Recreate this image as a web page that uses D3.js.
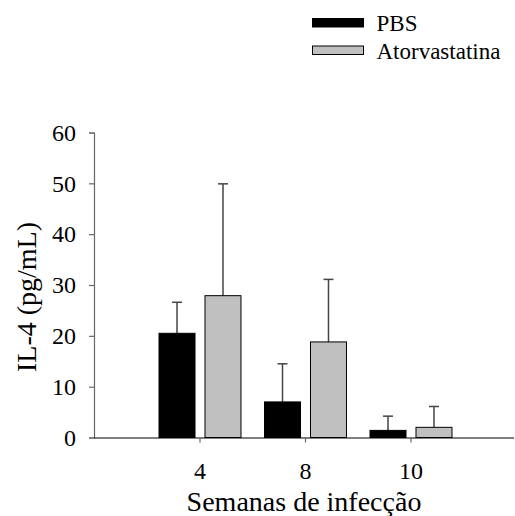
<!DOCTYPE html>
<html>
<head>
<meta charset="utf-8">
<script src="https://cdn.jsdelivr.net/npm/d3@7"></script>
<style>
  html, body { margin: 0; padding: 0; background: #fff; }
  svg { display: block; }
  text { font-family: "Liberation Serif", "Times New Roman", serif; fill: #000; }
</style>
</head>
<body>
<svg id="chart" width="515" height="516"></svg>
<script>
const categories = ["4", "8", "10"];
const seriesNames = ["PBS", "Atorvastatina"];
const pbsValues = [20.5, 7.0, 1.4];
const pbsErrors = [6.1, 7.5, 2.8];
const atorvValues = [27.9, 18.8, 2.0];
const atorvErrors = [22.0, 12.3, 4.1];
const yTicks = [0, 10, 20, 30, 40, 50, 60];
const colors = ["#000000", "#c0c0c0"];
const FONT = '"Liberation Serif", "Times New Roman", serif';

const data = categories.map((c, i) => ({
  cat: c,
  values: [
    { s: seriesNames[0], v: pbsValues[i], e: pbsErrors[i] },
    { s: seriesNames[1], v: atorvValues[i], e: atorvErrors[i] }
  ]
}));

const svg = d3.select("#chart");
const x0 = d3.scaleBand().domain(categories).range([147.25, 463.75]).paddingInner(0.223).paddingOuter(0.1115);
const x1 = d3.scaleBand().domain(seriesNames).range([0, x0.bandwidth()]).paddingInner(0.217);
const y = d3.scaleLinear().domain([0, 60]).range([437.5, 132.5]);
const color = d3.scaleOrdinal().domain(seriesNames).range(colors);

// y axis
const yAxis = svg.append("g").attr("transform", "translate(94,0)")
  .call(d3.axisLeft(y).tickValues(yTicks).tickSize(5).tickPadding(13).tickFormat(d3.format("d")));
yAxis.attr("font-family", null).attr("font-size", null);
yAxis.select(".domain").attr("stroke", "#666").attr("stroke-width", 1.2);
yAxis.selectAll(".tick line").attr("stroke", "#666").attr("stroke-width", 1.2);
yAxis.selectAll("text").style("font-size", "24px").style("font-family", FONT);

// x axis
const xAxis = svg.append("g").attr("transform", `translate(0,${y(0)})`)
  .call(d3.axisBottom(x0).tickSize(5).tickPadding(19).tickSizeOuter(0));
xAxis.attr("font-family", null).attr("font-size", null);
xAxis.select(".domain").attr("d", `M94,0.5H514`).attr("stroke", "#000").attr("stroke-width", 1.2);
xAxis.selectAll(".tick line").attr("stroke", "#666").attr("stroke-width", 1.2);
xAxis.selectAll("text").style("font-size", "24px").style("font-family", FONT);

const groups = svg.append("g").selectAll("g").data(data).join("g")
  .attr("transform", d => `translate(${x0(d.cat)},0)`);

groups.selectAll("g.err").data(d => d.values).join("g").attr("class", "err").each(function(d) {
  const g = d3.select(this);
  const cx = x1(d.s) + x1.bandwidth() / 2;
  g.append("line").attr("x1", cx).attr("x2", cx).attr("y1", y(d.v)).attr("y2", y(d.v + d.e))
    .attr("stroke", "#444").attr("stroke-width", 1.5);
  g.append("line").attr("x1", cx - 5).attr("x2", cx + 5).attr("y1", y(d.v + d.e)).attr("y2", y(d.v + d.e))
    .attr("stroke", "#444").attr("stroke-width", 1.5);
});

groups.selectAll("rect").data(d => d.values).join("rect")
  .attr("x", d => x1(d.s))
  .attr("width", x1.bandwidth())
  .attr("y", d => y(d.v))
  .attr("height", d => y(0) - y(d.v))
  .attr("fill", d => color(d.s))
  .attr("stroke", "#000")
  .attr("stroke-width", 1);

// axis titles
svg.append("text").attr("x", 304).attr("y", 511).attr("text-anchor", "middle")
  .style("font-family", FONT).style("font-size", "28px").text("Semanas de infecção");
svg.append("text").attr("transform", "translate(36,297) rotate(-90)").attr("text-anchor", "middle")
  .style("font-family", FONT).style("font-size", "28px").text("IL-4 (pg/mL)");

// legend
const legend = svg.append("g").selectAll("g").data(seriesNames).join("g")
  .attr("transform", (d, i) => `translate(312.5,${i * 27.5})`);
legend.append("rect").attr("x", 0).attr("y", 18.5).attr("width", 51).attr("height", 8.5)
  .attr("fill", d => color(d)).attr("stroke", "#000").attr("stroke-width", 1);
legend.append("text").attr("x", 64).attr("y", 31).style("font-family", FONT).style("font-size", "23px").text(d => d);

// force layout of all texts
svg.selectAll("text").each(function() { this.getBBox(); getComputedStyle(this).fontSize; });
</script>
</body>
</html>
